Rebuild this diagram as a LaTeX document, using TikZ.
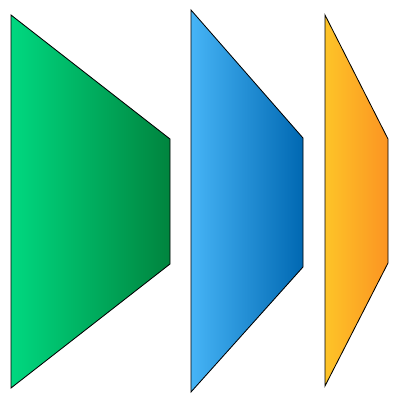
\documentclass[tikz,border=0pt]{standalone}
\definecolor{greenL}{RGB}{0,216,128}
\definecolor{greenR}{RGB}{0,132,62}
\definecolor{blueL}{RGB}{70,180,246}
\definecolor{blueR}{RGB}{0,104,178}
\definecolor{orangeL}{RGB}{253,196,40}
\definecolor{orangeR}{RGB}{252,148,34}
\begin{document}
\begin{tikzpicture}[x=0.25mm,y=-0.25mm]
\tikzstyle{funnel}=[draw=black,line width=0.6pt,line join=miter]
\useasboundingbox (0,0) rectangle (400,400);
% green
\draw [funnel,left color=greenL,right color=greenR] (11,15) -- (170,139) -- (170,264) -- (11,388) -- cycle;
% blue
\draw [funnel,left color=blueL,right color=blueR] (191,10) -- (303,138) -- (303,267) -- (191,392) -- cycle;
% orange
\draw [funnel,left color=orangeL,right color=orangeR] (325,15) -- (388,139) -- (388,263) -- (325,386) -- cycle;
\end{tikzpicture}
\end{document}
